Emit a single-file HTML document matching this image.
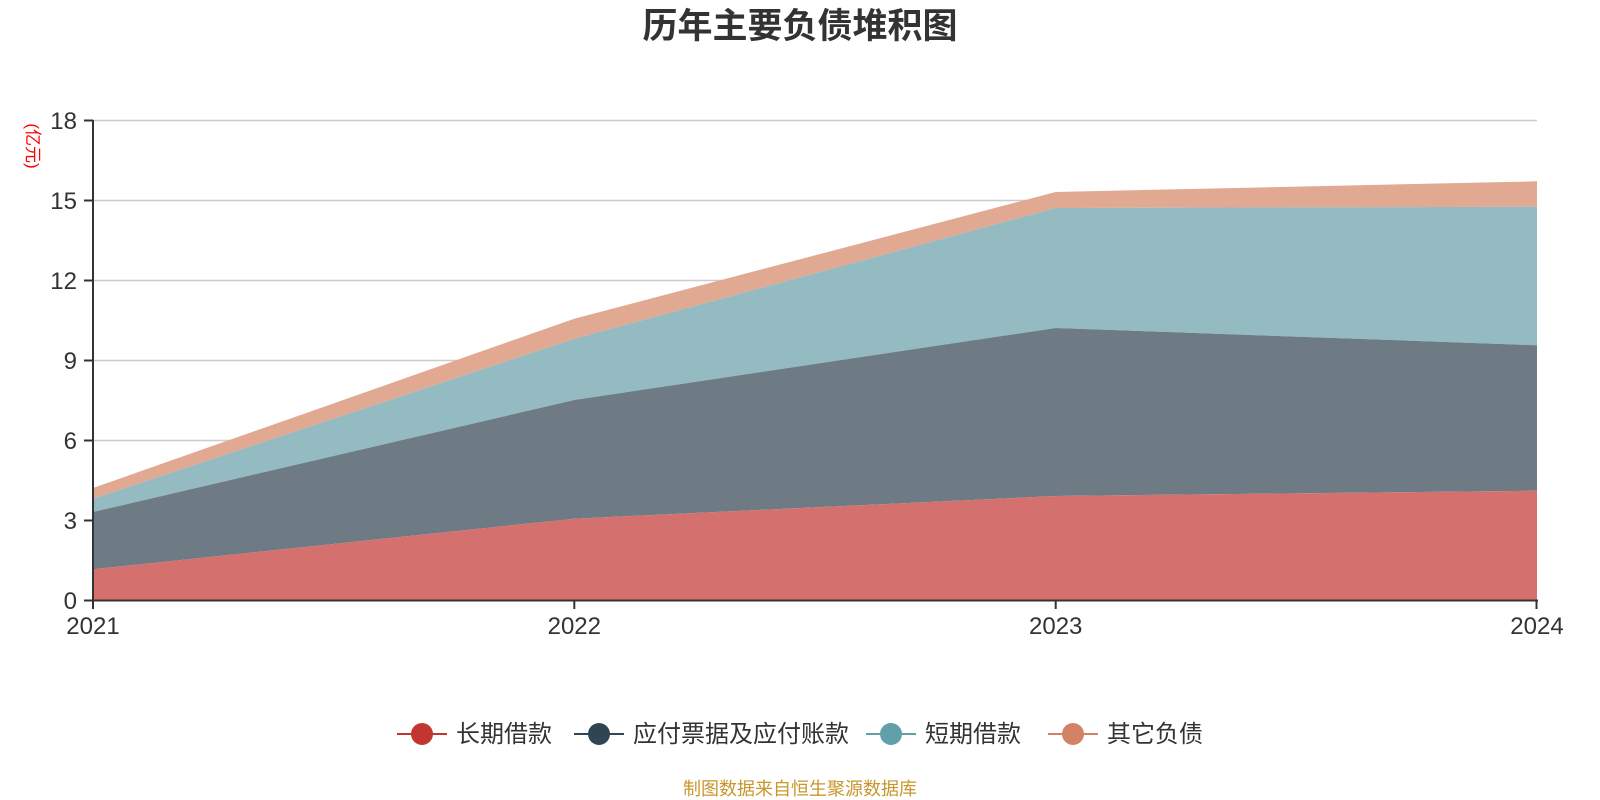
<!DOCTYPE html>
<html><head><meta charset="utf-8"><style>body{margin:0;background:#fff}svg{display:block}</style></head><body>
<svg width="1600" height="800" xmlns="http://www.w3.org/2000/svg" font-family="Liberation Sans, Noto Sans CJK SC, sans-serif">
<text x="800" y="38" text-anchor="middle" font-size="35" font-weight="bold" fill="#333">历年主要负债堆积图</text>
<g stroke="#ccc" stroke-width="1.5">
<line x1="93" x2="1537" y1="120.5" y2="120.5"/><line x1="93" x2="1537" y1="200.5" y2="200.5"/><line x1="93" x2="1537" y1="280.5" y2="280.5"/><line x1="93" x2="1537" y1="360.5" y2="360.5"/><line x1="93" x2="1537" y1="440.5" y2="440.5"/><line x1="93" x2="1537" y1="520.5" y2="520.5"/>
</g>
<polygon fill="#e1a892" points="93,488 574.3,318.7 1055.7,192 1537,181.3 1537,206.7 1055.7,208 574.3,338.7 93,498.7"/>
<polygon fill="#93bbc1" points="93,498.7 574.3,338.7 1055.7,208 1537,206.7 1537,345.3 1055.7,328 574.3,400 93,512"/>
<polygon fill="#6e7b85" points="93,512 574.3,400 1055.7,328 1537,345.3 1537,490.7 1055.7,496 574.3,518.7 93,569.3"/>
<polygon fill="#d4706d" points="93,569.3 574.3,518.7 1055.7,496 1537,490.7 1537,600 93,600"/>
<g stroke="#333" stroke-width="2" fill="none">
<line x1="93" y1="120" x2="93" y2="601"/><line x1="92" y1="600.5" x2="1538" y2="600.5"/>
<line x1="84" x2="93" y1="120.5" y2="120.5"/><line x1="84" x2="93" y1="200.5" y2="200.5"/><line x1="84" x2="93" y1="280.5" y2="280.5"/><line x1="84" x2="93" y1="360.5" y2="360.5"/><line x1="84" x2="93" y1="440.5" y2="440.5"/><line x1="84" x2="93" y1="520.5" y2="520.5"/><line x1="84" x2="93" y1="600.5" y2="600.5"/>
<line x1="93" x2="93" y1="600" y2="609"/><line x1="574.3" x2="574.3" y1="600" y2="609"/><line x1="1055.7" x2="1055.7" y1="600" y2="609"/><line x1="1536.5" x2="1536.5" y1="600" y2="609"/>
</g>
<g font-size="24" fill="#333" text-anchor="end">
<text x="77" y="129">18</text><text x="77" y="209">15</text><text x="77" y="289">12</text><text x="77" y="369">9</text><text x="77" y="449">6</text><text x="77" y="529">3</text><text x="77" y="609">0</text>
</g>
<g font-size="24" fill="#333" text-anchor="middle">
<text x="93" y="634">2021</text><text x="574.3" y="634">2022</text><text x="1055.7" y="634">2023</text><text x="1537" y="634">2024</text>
</g>
<text transform="translate(27,146) rotate(90)" text-anchor="middle" font-size="17" fill="#f00">(亿元)</text>
<g font-size="24" fill="#333">
<line x1="397" x2="447" y1="734" y2="734" stroke="#c23531" stroke-width="2"/><circle cx="422" cy="734" r="11" fill="#c23531"/><text x="456" y="742">长期借款</text>
<line x1="574" x2="624" y1="734" y2="734" stroke="#2f4554" stroke-width="2"/><circle cx="599" cy="734" r="11" fill="#2f4554"/><text x="633" y="742">应付票据及应付账款</text>
<line x1="866" x2="916" y1="734" y2="734" stroke="#61a0a8" stroke-width="2"/><circle cx="891" cy="734" r="11" fill="#61a0a8"/><text x="925" y="742">短期借款</text>
<line x1="1048" x2="1098" y1="734" y2="734" stroke="#d48265" stroke-width="2"/><circle cx="1073" cy="734" r="11" fill="#d48265"/><text x="1107" y="742">其它负债</text>
</g>
<text x="800" y="795" text-anchor="middle" font-size="18" fill="#c8962a">制图数据来自恒生聚源数据库</text>
</svg>
</body></html>
